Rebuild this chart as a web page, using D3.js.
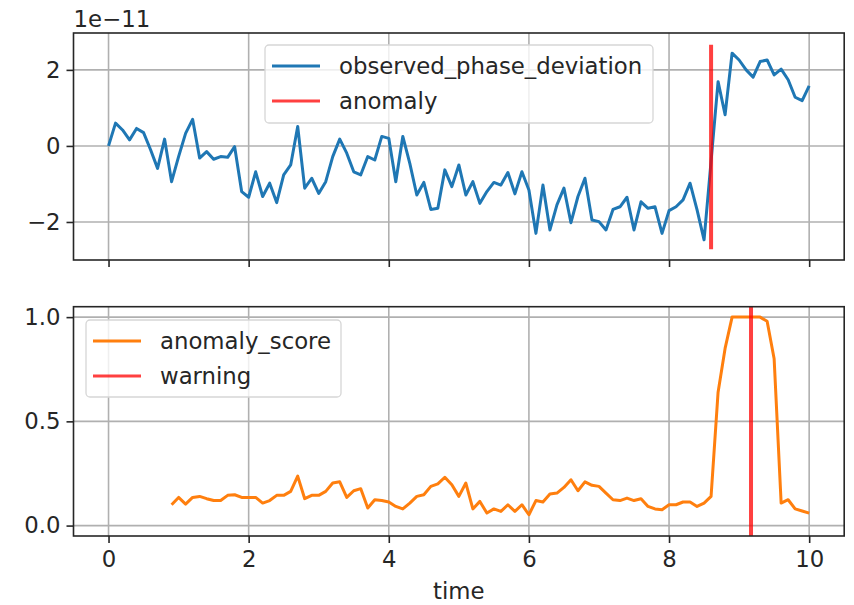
<!DOCTYPE html>
<html><head><meta charset="utf-8">
<script src="https://cdn.jsdelivr.net/npm/d3@7"></script>
<style>
html,body{margin:0;padding:0;background:#fff;}
svg text{font-family:"DejaVu Sans",sans-serif;fill:#262626;}
</style></head>
<body>
<svg id="chart" width="854" height="605"></svg>
<script>
// ---- data ----
const obsTime = [0.0,0.1,0.2,0.3,0.4,0.5,0.6,0.7,0.8,0.9,1.0,1.1,1.2,1.3,1.4,1.5,1.6,1.7,1.8,1.9,
  2.0,2.1,2.2,2.3,2.4,2.5,2.6,2.7,2.8,2.9,3.0,3.1,3.2,3.3,3.4,3.5,3.6,3.7,3.8,3.9,
  4.0,4.1,4.2,4.3,4.4,4.5,4.6,4.7,4.8,4.9,5.0,5.1,5.2,5.3,5.4,5.5,5.6,5.7,5.8,5.9,
  6.0,6.1,6.2,6.3,6.4,6.5,6.6,6.7,6.8,6.9,7.0,7.1,7.2,7.3,7.4,7.5,7.6,7.7,7.8,7.9,
  8.0,8.1,8.2,8.3,8.4,8.5,8.6,8.7,8.8,8.9,9.0,9.1,9.2,9.3,9.4,9.5,9.6,9.7,9.8,9.9,10.0];
// observed_phase_deviation, in units of 1e-11
const observedPhaseDeviation = [0,0.6,0.42,0.16,0.46,0.35,-0.1,-0.59,0.18,-0.94,
  -0.28,0.33,0.70,-0.32,-0.15,-0.35,-0.28,-0.30,-0.02,-1.2,
  -1.35,-0.68,-1.33,-0.98,-1.49,-0.76,-0.5,0.51,-1.11,-0.85,
  -1.25,-0.94,-0.28,0.18,-0.19,-0.68,-0.76,-0.28,-0.37,0.25,
  0.2,-0.94,0.25,-0.46,-1.29,-0.96,-1.67,-1.64,-0.63,-1.07,
  -0.5,-1.29,-0.94,-1.51,-1.2,-0.96,-1.03,-0.7,-1.26,-0.68,
  -1.16,-2.3,-1.03,-2.21,-1.55,-1.11,-2.02,-1.33,-0.85,-1.95,
  -1.99,-2.21,-1.67,-1.6,-1.35,-2.21,-1.47,-1.64,-1.6,-2.3,
  -1.7,-1.6,-1.42,-0.98,-1.68,-2.47,-0.4,1.69,0.82,2.44,
  2.26,2.0,1.81,2.22,2.26,1.87,2.02,1.74,1.28,1.19,1.58];
const scoreTime = [0.9,1.0,1.1,1.2,1.3,1.4,1.5,1.6,1.7,1.8,1.9,
  2.0,2.1,2.2,2.3,2.4,2.5,2.6,2.7,2.8,2.9,3.0,3.1,3.2,3.3,3.4,3.5,3.6,3.7,3.8,3.9,
  4.0,4.1,4.2,4.3,4.4,4.5,4.6,4.7,4.8,4.9,5.0,5.1,5.2,5.3,5.4,5.5,5.6,5.7,5.8,5.9,
  6.0,6.1,6.2,6.3,6.4,6.5,6.6,6.7,6.8,6.9,7.0,7.1,7.2,7.3,7.4,7.5,7.6,7.7,7.8,7.9,
  8.0,8.1,8.2,8.3,8.4,8.5,8.6,8.7,8.8,8.9,9.0,9.1,9.2,9.3,9.4,9.5,9.6,9.7,9.8,9.9,10.0];
const anomalyScore = [0.10,0.135,0.103,0.135,0.14,0.129,0.12,0.12,0.145,0.148,0.135,
  0.135,0.135,0.108,0.12,0.145,0.145,0.164,0.237,0.129,0.145,
  0.145,0.164,0.204,0.21,0.135,0.167,0.177,0.084,0.124,0.12,
  0.113,0.092,0.08,0.108,0.14,0.148,0.188,0.2,0.232,0.196,
  0.14,0.204,0.08,0.116,0.06,0.08,0.068,0.1,0.068,0.1,
  0.052,0.12,0.113,0.151,0.156,0.183,0.22,0.167,0.21,0.193,
  0.188,0.156,0.124,0.12,0.132,0.12,0.129,0.092,0.08,0.076,
  0.1,0.1,0.113,0.113,0.092,0.108,0.14,0.64,0.85,1.0,
  1.0,1.0,1.0,1.0,0.98,0.80,0.108,0.124,0.08,0.07,0.06];
const anomalyTime = 8.6;          // vertical "anomaly" marker (top panel)
const anomalyRange = [-2.72, 2.66]; // its extent, 1e-11 units
const warningTime = 9.17;         // vertical "warning" marker (bottom panel)
const xTicks = [0,2,4,6,8,10];
const topYTicks = [-2,0,2];
const bottomYTicks = [0,0.5,1.0];
const topLegend = ["observed_phase_deviation","anomaly"];
const bottomLegend = ["anomaly_score","warning"];

// ---- layout ----
const svg = d3.select("#chart");
const FS = 22.8;
const L = 73.5, R = 844.2;
const topBox = {y0:33, y1:260}, botBox = {y0:306.7, y1:536};
const x = d3.scaleLinear().domain([-0.5,10.5]).range([L,R]);
const yTop = d3.scaleLinear().domain([-3.0,2.97]).range([topBox.y1,topBox.y0]);
const yBot = d3.scaleLinear().domain([-0.05,1.05]).range([botBox.y1,botBox.y0]);
const BLUE="#1f77b4", ORANGE="#ff7f0e", RED="#ff0000", GRID="#b0b0b0";

function panel(yScale, box, yTicks, fmt, showXLabels){
  const g = svg.append("g");
  const id = "clip"+Math.round(box.y0);
  svg.append("clipPath").attr("id",id).append("rect")
    .attr("x",L).attr("y",box.y0).attr("width",R-L).attr("height",box.y1-box.y0);
  g.selectAll(".gx").data(xTicks).join("line").attr("class","gx")
    .attr("x1",d=>x(d)).attr("x2",d=>x(d)).attr("y1",box.y0).attr("y2",box.y1)
    .attr("stroke",GRID).attr("stroke-width",1.6);
  g.selectAll(".gy").data(yTicks).join("line").attr("class","gy")
    .attr("x1",L).attr("x2",R).attr("y1",d=>yScale(d)).attr("y2",d=>yScale(d))
    .attr("stroke",GRID).attr("stroke-width",1.6);
  const ay = d3.axisLeft(yScale).tickValues(yTicks).tickSize(7).tickPadding(6).tickFormat(fmt);
  const gy = svg.append("g").attr("transform",`translate(${L},0)`).call(ay);
  const ax = d3.axisBottom(x).tickValues(xTicks).tickSize(7).tickPadding(8)
    .tickFormat(showXLabels ? d3.format("d") : ()=>"");
  const gx = svg.append("g").attr("transform",`translate(0,${box.y1})`).call(ax);
  [gx,gy].forEach(a=>{
    a.select(".domain").remove();
    a.selectAll(".tick line").attr("stroke","#262626").attr("stroke-width",1.6);
    a.selectAll(".tick text").attr("font-size",FS).attr("font-family","DejaVu Sans").attr("fill","#262626");
  });
  return {g, id};
}

function frame(box){
  svg.append("rect").attr("x",L).attr("y",box.y0).attr("width",R-L).attr("height",box.y1-box.y0)
    .attr("fill","none").attr("stroke","#262626").attr("stroke-width",1.6);
}

function legend(x0,y0,w,h,items){
  const g = svg.append("g");
  g.append("rect").attr("x",x0).attr("y",y0).attr("width",w).attr("height",h).attr("rx",4)
    .attr("fill","#fff").attr("fill-opacity",0.8).attr("stroke","#d6d6d6").attr("stroke-width",1.3);
  items.forEach((it,i)=>{
    const cy = y0 + 21 + i*35;
    g.append("line").attr("x1",x0+7).attr("x2",x0+55).attr("y1",cy).attr("y2",cy)
      .attr("stroke",it.color).attr("stroke-width",3).attr("stroke-opacity",it.op||1);
    g.append("text").attr("x",x0+74).attr("y",cy+8).attr("font-size",FS).text(it.label);
  });
}

// ---- top panel ----
const p1 = panel(yTop, topBox, topYTicks, d=>d3.format("d")(d), false);
const lineTop = d3.line().x((d,i)=>x(obsTime[i])).y(d=>yTop(d));
p1.g.append("path").datum(observedPhaseDeviation).attr("d",lineTop)
  .attr("fill","none").attr("stroke",BLUE).attr("stroke-width",3).attr("stroke-linejoin","round")
  .attr("clip-path",`url(#${p1.id})`);
p1.g.append("line").attr("x1",x(anomalyTime)).attr("x2",x(anomalyTime))
  .attr("y1",yTop(anomalyRange[0])).attr("y2",yTop(anomalyRange[1]))
  .attr("stroke",RED).attr("stroke-opacity",0.75).attr("stroke-width",4);
legend(265,45,388,78,[{label:topLegend[0],color:BLUE},{label:topLegend[1],color:RED,op:0.75}]);
frame(topBox);
svg.append("text").attr("x",L).attr("y",27).attr("font-size",FS).text("1e\u221211");

// ---- bottom panel ----
const p2 = panel(yBot, botBox, bottomYTicks, d3.format(".1f"), true);
const lineBot = d3.line().x((d,i)=>x(scoreTime[i])).y(d=>yBot(d));
p2.g.append("path").datum(anomalyScore).attr("d",lineBot)
  .attr("fill","none").attr("stroke",ORANGE).attr("stroke-width",3).attr("stroke-linejoin","round")
  .attr("clip-path",`url(#${p2.id})`);
p2.g.append("line").attr("x1",x(warningTime)).attr("x2",x(warningTime))
  .attr("y1",botBox.y0).attr("y2",botBox.y1)
  .attr("stroke",RED).attr("stroke-opacity",0.75).attr("stroke-width",4);
legend(86,320,255,77,[{label:bottomLegend[0],color:ORANGE},{label:bottomLegend[1],color:RED,op:0.75}]);
frame(botBox);
svg.append("text").attr("x",(L+R)/2).attr("y",599).attr("text-anchor","middle").attr("font-size",FS).text("time");
</script>
</body></html>
